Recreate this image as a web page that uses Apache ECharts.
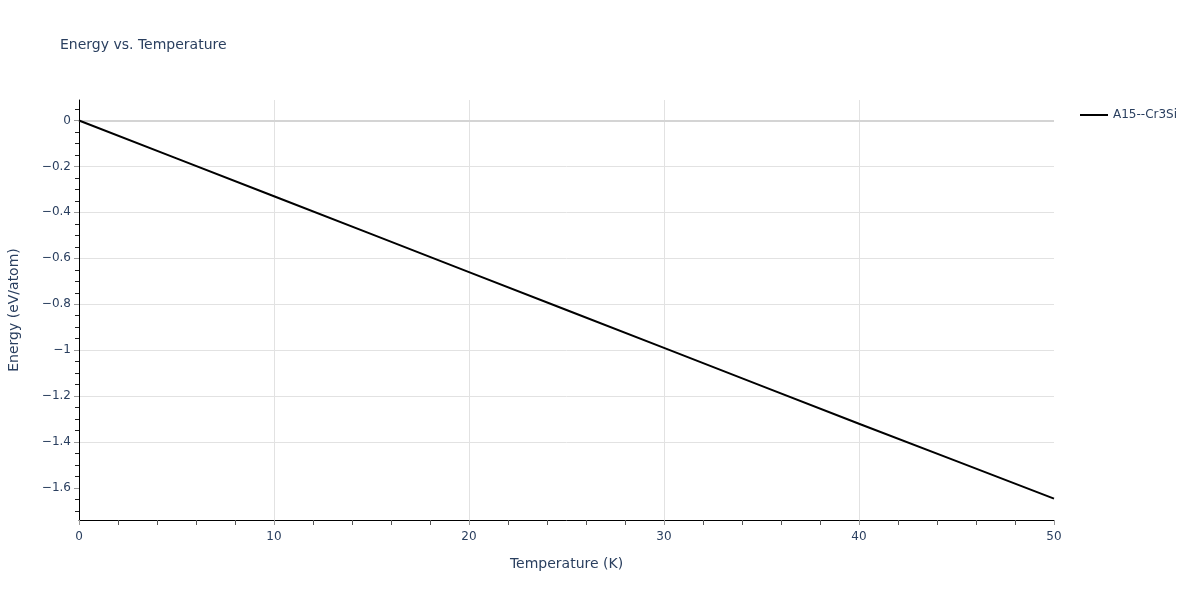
<!DOCTYPE html>
<html>
<head>
<meta charset="utf-8">
<script src="https://cdn.jsdelivr.net/npm/echarts@6/dist/echarts.min.js"></script>
<style>html,body{margin:0;padding:0;background:#fff}#c{width:1200px;height:600px}</style>
</head>
<body>
<div id="c"></div>
<script>
const seriesName = 'A15--Cr3Si';
const temperatures = [0, 5, 10, 15, 20, 25, 30, 35, 40, 45, 50];
const energies = [0, -0.165, -0.330, -0.495, -0.660, -0.825, -0.990, -1.155, -1.320, -1.483, -1.646];
const yMajorTicks = [-1.6, -1.4, -1.2, -1, -0.8, -0.6, -0.4, -0.2, 0];
const xTicks = [0, 10, 20, 30, 40, 50];

const yMinorTicks = [];
for (let k = -34; k <= 1; k++) { if (k % 4 !== 0) yMinorTicks.push(+(k * 0.05).toFixed(2)); }

const FONT = 'DejaVu Sans';
const TXT = '#2a3f5f';
const GRID = '#e2e2e2';
const YMIN = -1.739, YMAX = 0.089;
const fmt = v => { v = +(+v).toFixed(2); return v < 0 ? '\u2212' + Math.abs(v) : String(v); };

const chart = echarts.init(document.getElementById('c'), null, {renderer: 'canvas'});
chart.setOption({
  animation: false,
  backgroundColor: '#fff',
  textStyle: {fontFamily: FONT},
  title: {
    text: 'Energy vs. Temperature', left: 55, top: 33,
    textStyle: {fontFamily: FONT, fontSize: 14, fontWeight: 'normal', color: TXT}
  },
  legend: {
    left: 1075, top: 104,
    data: [{name: seriesName, icon: 'rect'}],
    itemWidth: 28, itemHeight: 2, itemGap: 10,
    textStyle: {fontFamily: FONT, fontSize: 12, color: TXT}
  },
  grid: {left: 79, top: 100, width: 975, height: 420, containLabel: false, outerBoundsMode: 'none'},
  xAxis: {
    type: 'value', min: 0, max: 50, interval: 10,
    name: 'Temperature (K)', nameLocation: 'middle', nameGap: 37,
    nameTextStyle: {fontFamily: FONT, fontSize: 14, color: TXT},
    axisLine: {show: true, onZero: false, lineStyle: {color: '#000', width: 1}},
    axisTick: {show: true, length: 5, lineStyle: {color: '#999'}},
    minorTick: {show: true, splitNumber: 5, length: 5, lineStyle: {color: '#555'}},
    axisLabel: {fontFamily: FONT, fontSize: 12, color: TXT, margin: 11, formatter: fmt},
    splitLine: {show: true, showMinLine: false, showMaxLine: false, lineStyle: {color: GRID, width: 1}}
  },
  yAxis: [{
    type: 'value', min: YMIN, max: YMAX,
    name: 'Energy (eV/atom)', nameLocation: 'middle', nameGap: 58,
    nameTextStyle: {fontFamily: FONT, fontSize: 14, color: TXT},
    axisLine: {show: true, onZero: false, lineStyle: {color: '#000', width: 1}},
    axisTick: {show: true, length: 4, customValues: yMinorTicks, lineStyle: {color: '#222'}},
    axisLabel: {fontFamily: FONT, fontSize: 12, color: TXT, margin: 8, customValues: yMajorTicks, formatter: fmt},
    splitLine: {show: false}
  }, {
    type: 'value', min: YMIN, max: YMAX, position: 'left',
    axisLine: {show: false},
    axisTick: {show: true, length: 5, customValues: yMajorTicks, lineStyle: {color: '#999'}},
    axisLabel: {show: false},
    splitLine: {show: true, showMinLine: false, showMaxLine: false, lineStyle: {color: GRID, width: 1}}
  }],
  series: [{
    name: seriesName, type: 'line', xAxisIndex: 0, yAxisIndex: 0,
    data: temperatures.map((t, i) => [t, energies[i]]),
    showSymbol: false, symbol: 'none',
    lineStyle: {color: '#000', width: 2}, itemStyle: {color: '#000'},
    z: 3,
    markLine: {
      silent: true, z: 1, symbol: ['none', 'none'], label: {show: false},
      lineStyle: {color: '#d4d4d4', width: 2, type: 'solid'},
      data: [{yAxis: 0}]
    }
  }]
});
</script>
</body>
</html>
